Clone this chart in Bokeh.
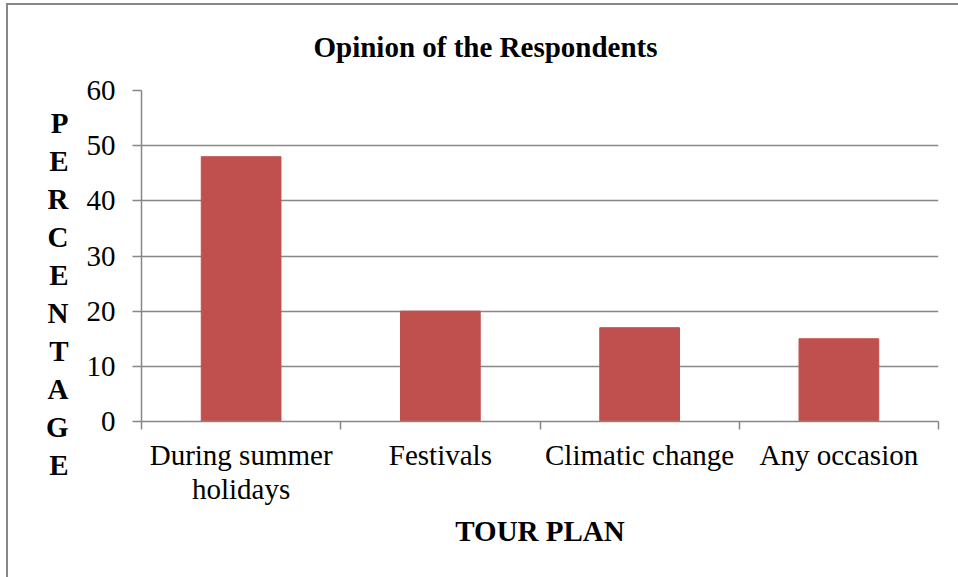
from bokeh.plotting import figure
from bokeh.models import FixedTicker, Range1d, ColumnDataSource
from bokeh.embed import file_html
from bokeh.resources import INLINE

categories = ["During summer\nholidays", "Festivals", "Climatic change", "Any occasion"]
values = [48, 20, 17, 15]
y_ticks = [0, 10, 20, 30, 40, 50, 60]
title_text = "Opinion of the Respondents"

FONT = "Liberation Serif"
GRID = "#878787"

centers = [i + 0.5 for i in range(len(categories))]
src = ColumnDataSource(dict(x=centers, top=values))

p = figure(width=958, height=577, output_backend="svg", toolbar_location=None,
           x_range=Range1d(0, len(categories)), y_range=Range1d(0, 60),
           min_border_left=141, min_border_right=20, min_border_top=90, min_border_bottom=156)

p.vbar(x="x", top="top", width=0.4, source=src, color="#C0504D")

# title
p.title.text = title_text
p.title.text_font = FONT
p.title.text_font_size = "29px"
p.title.text_font_style = "bold"
p.title.text_color = "black"
p.title.align = "left"
p.title.offset = 172
p.title.standoff = 55

# x axis
xa = p.xaxis[0]
xa.ticker = FixedTicker(ticks=centers, minor_ticks=list(range(len(categories) + 1)))
xa.major_label_overrides = {c: lab for c, lab in zip(centers, categories)}
xa.major_tick_in = 0
xa.major_tick_out = 0
xa.minor_tick_in = 0
xa.minor_tick_out = 8
xa.minor_tick_line_color = GRID
xa.minor_tick_line_width = 1.5
xa.axis_line_color = GRID
xa.axis_line_width = 1.5
xa.major_label_text_font = FONT
xa.major_label_text_font_size = "29px"
xa.major_label_text_color = "black"
xa.major_label_text_line_height = 1.07
xa.major_label_standoff = 9
xa.axis_label = "TOUR PLAN"
xa.axis_label_text_font = FONT
xa.axis_label_text_font_size = "29px"
xa.axis_label_text_font_style = "bold"
xa.axis_label_text_color = "black"
xa.axis_label_standoff = 7

# y axis
ya = p.yaxis[0]
ya.ticker = FixedTicker(ticks=y_ticks)
ya.minor_tick_line_color = None
ya.major_tick_in = 0
ya.major_tick_out = 9
ya.major_tick_line_color = GRID
ya.major_tick_line_width = 1.5
ya.axis_line_color = GRID
ya.axis_line_width = 1.5
ya.major_label_text_font = FONT
ya.major_label_text_font_size = "29px"
ya.major_label_text_color = "black"
ya.major_label_standoff = 17
ya.axis_label = "\n\n" + "\n".join("PERCENTAGE")
ya.axis_label_orientation = "horizontal"
ya.axis_label_text_font = FONT
ya.axis_label_text_font_size = "29px"
ya.axis_label_text_font_style = "bold"
ya.axis_label_text_color = "black"
ya.axis_label_text_line_height = 1.185
ya.axis_label_standoff = 15

p.xgrid.grid_line_color = None
p.ygrid.grid_line_color = GRID
p.ygrid.grid_line_width = 1.5
p.outline_line_color = None

# outer chart border (left and top edges visible) drawn as CSS background
p.border_fill_color = None
p.background_fill_color = None
p.styles = {
    "background-color": "white",
    "background-image": f"linear-gradient({GRID},{GRID}), linear-gradient({GRID},{GRID})",
    "background-size": "2px 100%, 100% 2px",
    "background-position": "6px 3px, 6px 3px",
    "background-repeat": "no-repeat",
}

open("out.html", "w").write(file_html(p, INLINE))
